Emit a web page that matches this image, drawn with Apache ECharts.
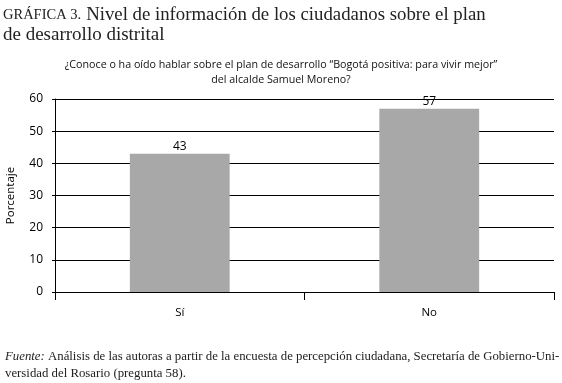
<!DOCTYPE html>
<html>
<head>
<meta charset="utf-8">
<script src="https://cdn.jsdelivr.net/npm/echarts@6/dist/echarts.min.js"></script>
<style>
  html, body { margin: 0; padding: 0; background: #fff; }
  #chart { width: 562px; height: 383px; }
</style>
</head>
<body>
<div id="chart"></div>
<script>
const categories = ['Sí', 'No']
const values = [43, 57]
const yTicks = { min: 0, max: 60, interval: 10 }

const serif = '"Liberation Serif", "DejaVu Serif", serif'
const sans = '"Open Sans", "Noto Sans", sans-serif'

const chart = echarts.init(document.getElementById('chart'))

chart.setOption({
  animation: false,
  title: [
    {
      left: 3,
      top: 5,
      padding: 0,
      text: '{a|GRÁFICA 3.} {b|Nivel de información de los ciudadanos sobre el plan}\n{c|de desarrollo distrital}',
      textStyle: {
        fontWeight: 'normal',
        rich: {
          a: { fontFamily: serif, fontSize: 14.5, fontWeight: 'normal', color: '#222', lineHeight: 20 },
          b: { fontFamily: serif, fontSize: 18.8, fontWeight: 'normal', color: '#222', lineHeight: 20 },
          c: { fontFamily: serif, fontSize: 19, fontWeight: 'normal', color: '#222', lineHeight: 20 },
        },
      },
    },
    {
      left: 'center',
      top: 57,
      padding: 0,
      text: '¿Conoce o ha oído hablar sobre el plan de desarrollo “Bogotá positiva: para vivir mejor”\ndel alcalde Samuel Moreno?',
      textStyle: {
        fontFamily: sans,
        fontSize: 10.7,
        fontWeight: 'normal',
        color: '#111',
        lineHeight: 15,
        align: 'center',
      },
    },
    {
      left: 5,
      top: 348,
      padding: 0,
      text: '{i|Fuente:} Análisis de las autoras a partir de la encuesta de percepción ciudadana, Secretaría de Gobierno-Uni-\nversidad del Rosario (pregunta 58).',
      textStyle: {
        fontFamily: serif,
        fontSize: 12.8,
        fontWeight: 'normal',
        color: '#222',
        lineHeight: 17,
        rich: {
          i: { fontFamily: serif, fontStyle: 'italic', fontSize: 12.8, color: '#222' },
        },
      },
    },
  ],
  grid: {
    left: 55,
    right: 8,
    top: 99,
    bottom: 91,
    outerBoundsMode: 'none',
  },
  xAxis: {
    type: 'category',
    data: categories,
    axisLine: { lineStyle: { color: '#000', width: 1 } },
    axisTick: { show: true, length: 8, lineStyle: { color: '#000' } },
    axisLabel: { fontFamily: sans, fontSize: 11.5, color: '#000', margin: 15 },
  },
  yAxis: {
    type: 'value',
    min: yTicks.min,
    max: yTicks.max,
    interval: yTicks.interval,
    name: 'Porcentaje',
    nameLocation: 'middle',
    nameGap: 38,
    nameTextStyle: { fontFamily: sans, fontSize: 11.5, color: '#000' },
    axisLine: { show: true, lineStyle: { color: '#000', width: 1 } },
    axisTick: { show: true, length: 3, lineStyle: { color: '#000' } },
    axisLabel: { fontFamily: sans, fontSize: 12, color: '#000', margin: 12 },
    splitLine: { lineStyle: { color: '#000', width: 1 } },
  },
  series: [
    {
      type: 'bar',
      data: values,
      barWidth: '40%',
      itemStyle: { color: '#a8a8a8' },
      label: {
        show: true,
        position: 'top',
        distance: 1,
        fontFamily: sans,
        fontSize: 12,
        color: '#000',
      },
    },
  ],
})
</script>
</body>
</html>
